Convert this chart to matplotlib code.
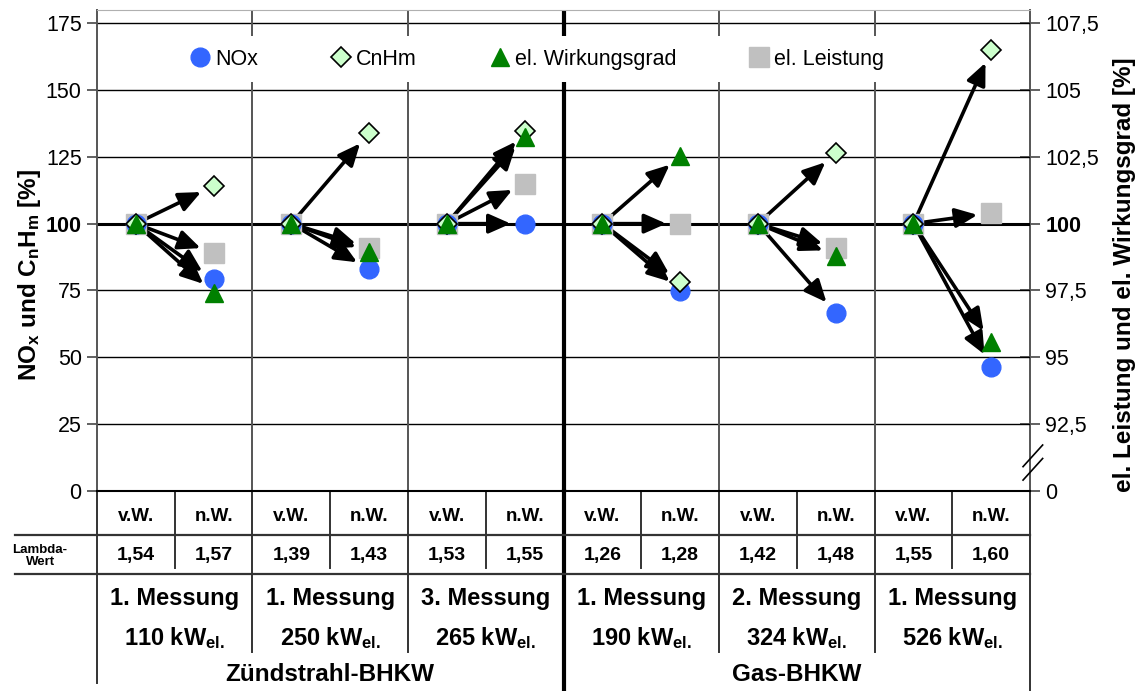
import matplotlib
matplotlib.use("Agg")
import matplotlib.pyplot as plt
import numpy as np
from matplotlib.lines import Line2D

plt.rcParams['font.family'] = ['Liberation Sans', 'DejaVu Sans']
plt.rcParams['mathtext.fontset'] = 'custom'
plt.rcParams['mathtext.rm'] = 'Liberation Sans:bold'
plt.rcParams['mathtext.it'] = 'Liberation Sans:bold'
plt.rcParams['mathtext.bf'] = 'Liberation Sans:bold'

# =====[ Data ]=====
bhkw_types = ['Zündstrahl-BHKW', 'Gas-BHKW']
messung = ['1. Messung', '1. Messung', '3. Messung', '1. Messung', '2. Messung', '1. Messung']
leistung_kw = [110, 250, 265, 190, 324, 526]
lambda_vw = ['1,54', '1,39', '1,53', '1,26', '1,42', '1,55']
lambda_nw = ['1,57', '1,43', '1,55', '1,28', '1,48', '1,60']

# v.W. = 100 % everywhere, n.W. relative to it
vw_value = 100.0
nox_nw = [79.1, 82.9, 100.0, 74.9, 66.6, 46.4]               # left axis
cnhm_nw = [114.1, 134.0, 134.7, 78.2, 126.5, 165.0]          # left axis
leistung_nw = [98.9, 99.1, 101.5, 100.0, 99.1, 100.4]        # right axis
wirkungsgrad_nw = [97.4, 98.95, 103.25, 102.55, 98.8, 95.55]  # right axis

left_ticks = [0, 25, 50, 75, 100, 125, 150, 175]
right_ticks = [90, 92.5, 95, 97.5, 100, 102.5, 105, 107.5]
right_labels = ['0', '92,5', '95', '97,5', '100', '102,5', '105', '107,5']


def to_right(v):
    return 90 + np.asarray(v) / 10.0


def to_left(v):
    return (np.asarray(v) - 90) * 10.0


# =====[ Figure ]=====
fig = plt.figure(figsize=(11.45, 6.91), dpi=100)
ax = fig.add_axes([0.0847, 0.2899, 0.8149, 0.6956])
ax.set_xlim(0, 6)
ax.set_ylim(0, 180)

n = len(messung)
x_vw = np.arange(n) + 0.25
x_nw = np.arange(n) + 0.75

# grid
for t in left_ticks[1:]:
    ax.axhline(t, color='black', lw=2.2 if t == 100 else 1.0, zorder=1)
for xg in [1, 2, 4, 5]:
    ax.axvline(xg, color='#555555', lw=1.4, zorder=1)

# arrows v.W. -> n.W.
series_left = [
    np.array(leistung_nw, dtype=float),
    np.array(nox_nw, dtype=float),
    np.array(cnhm_nw, dtype=float),
    np.array(wirkungsgrad_nw, dtype=float),
]
series_left[0] = to_left(series_left[0])
series_left[3] = to_left(series_left[3])
for ys in series_left:
    for i in range(n):
        ax.annotate('', xy=(x_nw[i], ys[i]), xytext=(x_vw[i], vw_value),
                    arrowprops=dict(arrowstyle='-|>,head_length=0.95,head_width=0.42',
                                    color='black', lw=2.6, shrinkA=5, shrinkB=10,
                                    mutation_scale=14),
                    zorder=3)

vw = np.full(n, vw_value)
ms = 13.5
h_leist, = ax.plot(np.r_[x_vw, x_nw], np.r_[vw, series_left[0]], 's',
                   color='#C0C0C0', ms=14, ls='none', zorder=4, label='el. Leistung')
h_nox, = ax.plot(np.r_[x_vw, x_nw], np.r_[vw, series_left[1]], 'o',
                 color='#3366FF', ms=ms, ls='none', zorder=5, label='NOx')
h_cnhm, = ax.plot(np.r_[x_vw, x_nw], np.r_[vw, series_left[2]], 'D',
                  mfc='#CCFFCC', mec='black', mew=1.2, ms=10.5, ls='none', zorder=6,
                  label='CnHm')
h_wg, = ax.plot(np.r_[x_vw, x_nw], np.r_[vw, series_left[3]], '^',
                color='#008000', ms=ms, ls='none', zorder=7, label='el. Wirkungsgrad')

leg = ax.legend(handles=[h_nox, h_cnhm, h_wg, h_leist], loc='center',
                bbox_to_anchor=(0.472, 0.898), ncol=4, frameon=True,
                facecolor='white', edgecolor='none', framealpha=1, fancybox=False,
                fontsize=15.5, handlelength=0.9, handletextpad=0.25,
                columnspacing=3.4, borderpad=0.6)
leg.set_zorder(10)

# axes styling
ax.set_xticks([])
ax.set_yticks(left_ticks)
ax.set_yticklabels([str(t) for t in left_ticks])
ax.tick_params(axis='y', direction='out', length=7, width=1.3, color='#555555',
               labelsize=15.5, pad=4)
for lab in ax.get_yticklabels():
    if lab.get_text() == '100':
        lab.set_fontweight('bold')
ax.spines['top'].set_color('#b0b0b0')
ax.spines['left'].set_color('#555555')
ax.spines['left'].set_linewidth(1.4)
ax.spines['bottom'].set_color('black')
ax.spines['bottom'].set_linewidth(1.5)
ax.spines['right'].set_visible(False)

sec = ax.secondary_yaxis('right', functions=(to_right, to_left))
sec.set_yticks(right_ticks)
sec.set_yticklabels(right_labels)
sec.tick_params(direction='inout', length=14, width=1.3, color='#555555',
                labelsize=15.5, pad=4)
sec.spines['right'].set_color('#555555')
sec.spines['right'].set_linewidth(1.4)
for lab in sec.get_yticklabels():
    if lab.get_text() == '100':
        lab.set_fontweight('bold')

# axis break on right axis
for y0 in [0.022, 0.05]:
    ax.add_line(Line2D([0.9925, 1.0135], [y0, y0 + 0.045], transform=ax.transAxes,
                       color='black', lw=1.2, clip_on=False, zorder=10))

# axis labels
fig.text(0.0262, 0.602, r'NO$_x$ und C$_n$H$_m$ [%]', rotation=90, ha='center',
         va='center', fontsize=17.5, fontweight='bold')
fig.text(0.9825, 0.602, 'el. Leistung und el. Wirkungsgrad [%]', rotation=90,
         ha='center', va='center', fontsize=17.5, fontweight='bold')

# =====[ Table below the chart ]=====
tx = ax.get_xaxis_transform()
ax.axvline(3, ymin=0, ymax=1, color='black', lw=3, zorder=2)


def vline(x, y0, y1, lw=1.4, color='#333333'):
    ax.add_line(Line2D([x, x], [y0, y1], transform=tx, color=color, lw=lw,
                       clip_on=False))


def hline(y, x0=-0.0879, x1=1.0):
    ax.add_line(Line2D([x0, x1], [y, y], transform=ax.transAxes, color='#333333',
                       lw=1.6, clip_on=False))


vline(3, 0, -0.4167, lw=3, color='black')
vline(0, 0, -0.40)
vline(6, 0, -0.4167)
for xg in [1, 2, 4, 5]:
    vline(xg, 0, -0.336)
for i in range(n):
    vline(i + 0.5, 0, -0.161)
hline(-0.0922)
hline(-0.1733)

for i in range(n):
    ax.text(x_vw[i], -0.0547, 'v.W.', transform=tx, ha='center', va='center',
            fontsize=13.5, fontweight='bold')
    ax.text(x_nw[i], -0.0547, 'n.W.', transform=tx, ha='center', va='center',
            fontsize=13.5, fontweight='bold')
    ax.text(x_vw[i], -0.1358, lambda_vw[i], transform=tx, ha='center', va='center',
            fontsize=14, fontweight='bold')
    ax.text(x_nw[i], -0.1358, lambda_nw[i], transform=tx, ha='center', va='center',
            fontsize=14, fontweight='bold')
    ax.text(i + 0.5, -0.2253, messung[i], transform=tx, ha='center', va='center',
            fontsize=17, fontweight='bold')
    ax.text(i + 0.5, -0.3064, '%d kW$_{el.}$' % leistung_kw[i], transform=tx,
            ha='center', va='center', fontsize=17, fontweight='bold')

ax.text(-0.061, -0.1358, 'Lambda-\nWert', transform=ax.transAxes, ha='center',
        va='center', fontsize=9.5, fontweight='bold', linespacing=0.9)
for j, name in enumerate(bhkw_types):
    ax.text(1.5 + 3 * j, -0.3834, name, transform=tx, ha='center', va='center',
            fontsize=17.5, fontweight='bold')

fig.savefig('out.png', dpi=100)
